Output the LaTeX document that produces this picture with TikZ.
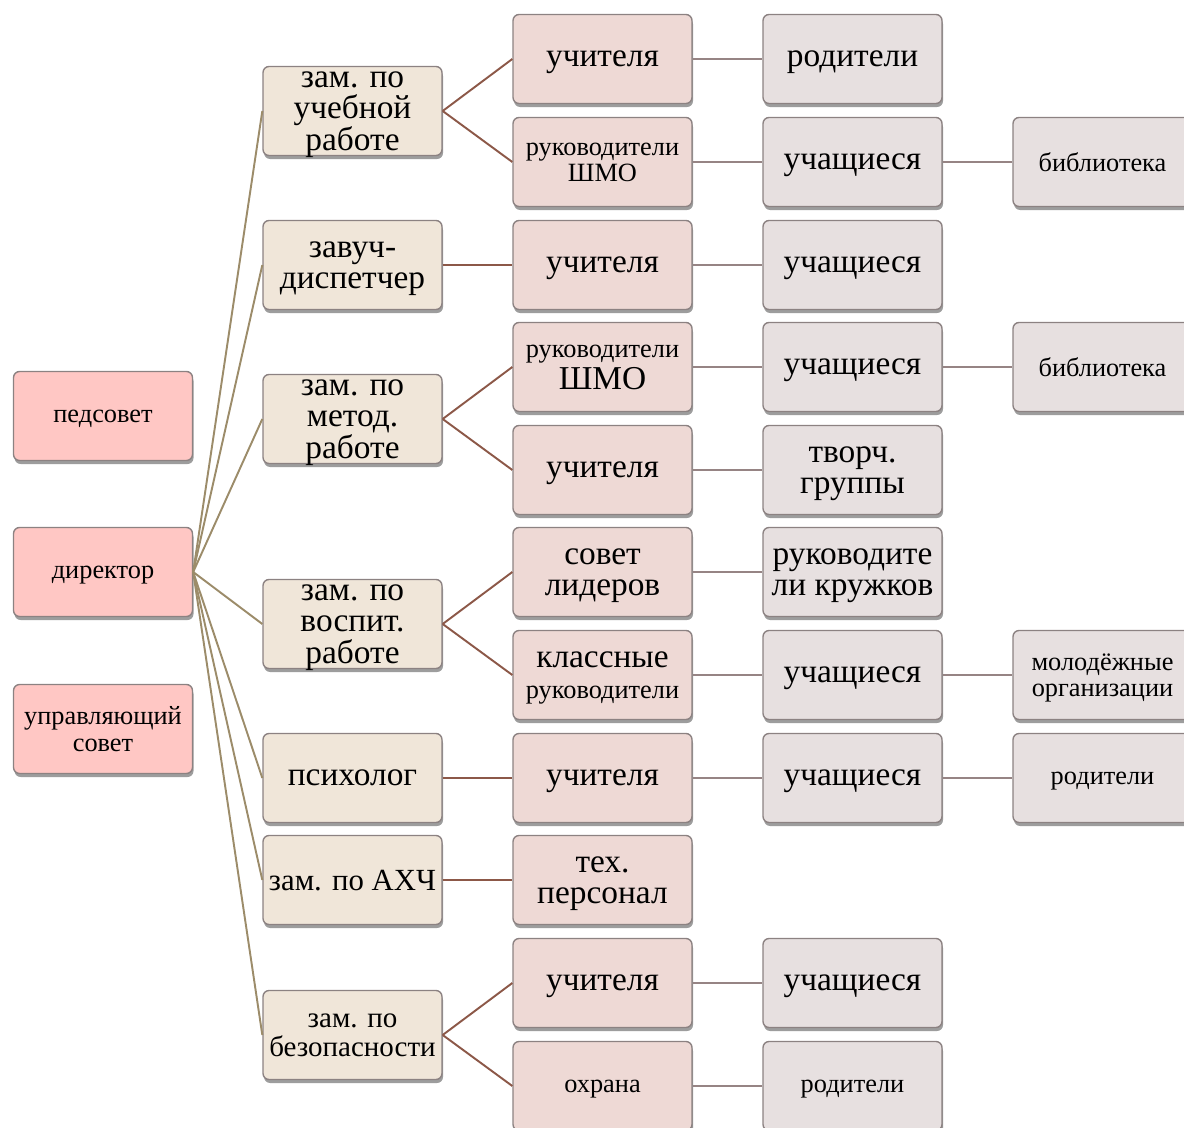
\documentclass[tikz,border=0pt]{standalone}
\usepackage{fontspec}
\setmainfont{Liberation Serif}
\usepackage{tikz}
\usetikzlibrary{shadows}

\definecolor{leadfill}{RGB}{255,199,196}
\definecolor{deputyfill}{RGB}{240,230,217}
\definecolor{staffill}{RGB}{238,217,213}
\definecolor{pupilfill}{RGB}{231,224,224}
\definecolor{boxline}{RGB}{140,130,130}
\definecolor{linktan}{RGB}{156,140,106}
\definecolor{linkbrown}{RGB}{140,88,72}
\definecolor{linkgrey}{RGB}{150,132,132}

\newcommand{\bigtxt}{\fontsize{19}{18}\selectfont}
\newcommand{\midtxt}{\fontsize{16.5}{16.5}\selectfont}
\newcommand{\smalltxt}{\fontsize{15}{15}\selectfont}

\tikzset{
  box/.style={draw=boxline, line width=0.8pt, rounded corners=0.12cm,
    minimum width=3.58cm, minimum height=1.78cm, inner sep=1pt, align=center,
    text depth=0pt,
    drop shadow={shadow xshift=0.6pt, shadow yshift=-2pt, opacity=0.55, fill=black!70}},
  leadbox/.style={box, fill=leadfill, font=\smalltxt},
  deputybox/.style={box, fill=deputyfill, font=\bigtxt},
  staffbox/.style={box, fill=staffill, font=\bigtxt},
  pupilbox/.style={box, fill=pupilfill, font=\bigtxt},
  tanlink/.style={draw=linktan, line width=1.1pt},
  brownlink/.style={draw=linkbrown, line width=1.1pt},
  greylink/.style={draw=linkgrey, line width=1.1pt},
}

\begin{document}
\begin{tikzpicture}[x=0.02cm, y=-0.02cm]
\useasboundingbox (0,0) rectangle (1184,1128);
\clip (0,0) rectangle (1184,1128);

% left column
\node[leadbox] (pedsovet) at (103,416) {педсовет};
\node[leadbox] (direktor) at (103,572) {директор};
\node[leadbox] (upravsovet) at (103,729) {управляющий\\совет};

% deputies
\node[deputybox] (zamucheb) at (352.5,111) {зам. по\\учебной\\работе};
\node[deputybox] (zavuch) at (352.5,265) {завуч-\\диспетчер};
\node[deputybox] (zammetod) at (352.5,419) {зам. по\\метод.\\работе};
\node[deputybox] (zamvosp) at (352.5,624) {зам. по\\воспит.\\работе};
\node[deputybox] (psiholog) at (352.5,778) {психолог};
\node[deputybox, font=\fontsize{17.5}{17.5}\selectfont] (zamahch) at (352.5,880) {зам. по АХЧ};
\node[deputybox, font=\midtxt] (zambez) at (352.5,1035) {зам. по\\безопасности};

% staff
\node[staffbox] (uchit1) at (602.5,59) {учителя};
\node[staffbox, font=\smalltxt] (shmo1) at (602.5,162) {руководители\\ШМО};
\node[staffbox] (uchit2) at (602.5,265) {учителя};
\node[staffbox] (shmo2) at (602.5,367) {{\smalltxt руководители}\\ШМО};
\node[staffbox] (uchit3) at (602.5,470) {учителя};
\node[staffbox] (sovetlid) at (602.5,572) {совет\\лидеров};
\node[staffbox] (klassruk) at (602.5,675) {классные\\{\smalltxt руководители}};
\node[staffbox] (uchit4) at (602.5,778) {учителя};
\node[staffbox] (tehpers) at (602.5,880) {тех.\\персонал};
\node[staffbox] (uchit5) at (602.5,983) {учителя};
\node[staffbox, font=\smalltxt] (ohrana) at (602.5,1086) {охрана};

% pupils and parents
\node[pupilbox] (rodit1) at (852.5,59) {родители};
\node[pupilbox] (uchash1) at (852.5,162) {учащиеся};
\node[pupilbox] (uchash2) at (852.5,265) {учащиеся};
\node[pupilbox] (uchash3) at (852.5,367) {учащиеся};
\node[pupilbox] (tvorch) at (852.5,470) {творч.\\группы};
\node[pupilbox] (kruzhki) at (852.5,572) {руководите\\ли кружков};
\node[pupilbox] (uchash4) at (852.5,675) {учащиеся};
\node[pupilbox] (uchash5) at (852.5,778) {учащиеся};
\node[pupilbox] (uchash6) at (852.5,983) {учащиеся};
\node[pupilbox, font=\smalltxt] (rodit2) at (852.5,1086) {родители};

% outer column
\node[pupilbox, font=\smalltxt] (bibl1) at (1102.5,162) {библиотека};
\node[pupilbox, font=\smalltxt] (bibl2) at (1102.5,367) {библиотека};
\node[pupilbox, font=\smalltxt] (molod) at (1102.5,675) {молодёжные\\организации};
\node[pupilbox, font=\smalltxt] (rodit3) at (1102.5,778) {родители};

% director to deputies
\draw[tanlink] (direktor.east) -- (zamucheb.west);
\draw[tanlink] (direktor.east) -- (zavuch.west);
\draw[tanlink] (direktor.east) -- (zammetod.west);
\draw[tanlink] (direktor.east) -- (zamvosp.west);
\draw[tanlink] (direktor.east) -- (psiholog.west);
\draw[tanlink] (direktor.east) -- (zamahch.west);
\draw[tanlink] (direktor.east) -- (zambez.west);

% deputies to staff
\draw[brownlink] (zamucheb.east) -- (uchit1.west);
\draw[brownlink] (zamucheb.east) -- (shmo1.west);
\draw[brownlink] (zavuch.east) -- (uchit2.west);
\draw[brownlink] (zammetod.east) -- (shmo2.west);
\draw[brownlink] (zammetod.east) -- (uchit3.west);
\draw[brownlink] (zamvosp.east) -- (sovetlid.west);
\draw[brownlink] (zamvosp.east) -- (klassruk.west);
\draw[brownlink] (psiholog.east) -- (uchit4.west);
\draw[brownlink] (zamahch.east) -- (tehpers.west);
\draw[brownlink] (zambez.east) -- (uchit5.west);
\draw[brownlink] (zambez.east) -- (ohrana.west);

% staff to pupils
\draw[greylink] (uchit1) -- (rodit1);
\draw[greylink] (shmo1) -- (uchash1);
\draw[greylink] (uchit2) -- (uchash2);
\draw[greylink] (shmo2) -- (uchash3);
\draw[greylink] (uchit3) -- (tvorch);
\draw[greylink] (sovetlid) -- (kruzhki);
\draw[greylink] (klassruk) -- (uchash4);
\draw[greylink] (uchit4) -- (uchash5);
\draw[greylink] (uchit5) -- (uchash6);
\draw[greylink] (ohrana) -- (rodit2);
\draw[greylink] (uchash1) -- (bibl1);
\draw[greylink] (uchash3) -- (bibl2);
\draw[greylink] (uchash4) -- (molod);
\draw[greylink] (uchash5) -- (rodit3);
\end{tikzpicture}
\end{document}
